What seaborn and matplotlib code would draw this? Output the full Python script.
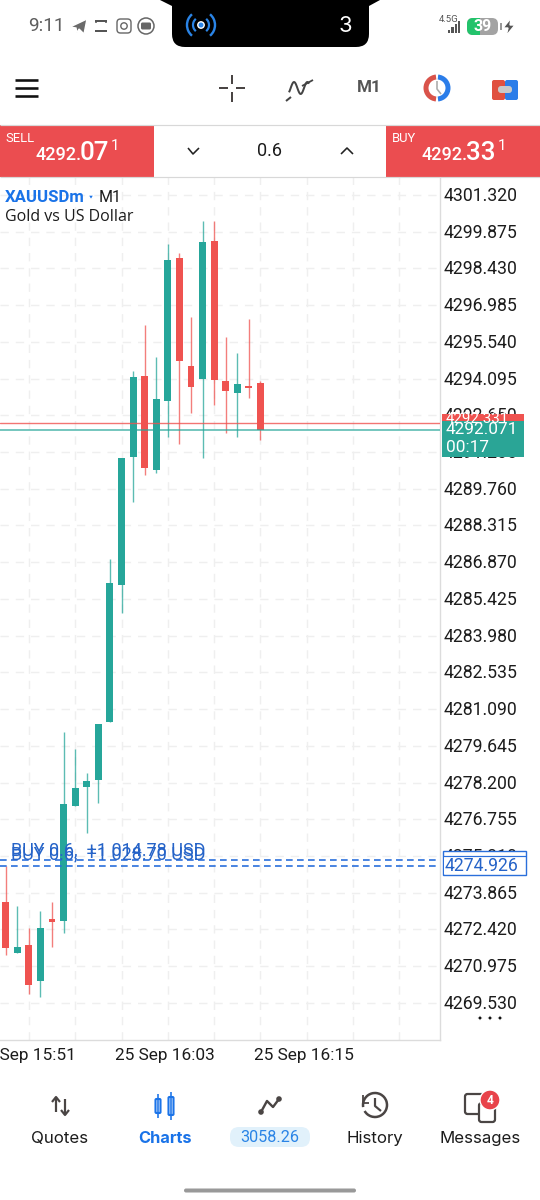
import numpy as np
import pandas as pd
import seaborn as sns
import matplotlib
matplotlib.use("Agg")
import matplotlib.pyplot as plt
from matplotlib.patches import Rectangle, FancyBboxPatch, Circle, Arc, Polygon
from matplotlib.transforms import ScaledTranslation

# ---------- data ----------
candle_idx = list(range(23))
opens  = [4273.51,4271.51,4271.81,4270.40,4272.83,4272.75,4277.28,4278.04,4278.30,4280.58,4285.97,4291.01,4294.19,4290.50,4293.22,4298.84,4294.59,4294.09,4299.50,4293.99,4293.54,4293.80,4293.91]
closes = [4271.68,4271.74,4270.24,4272.48,4272.70,4277.36,4277.97,4278.27,4280.50,4286.06,4290.96,4294.14,4290.56,4293.28,4298.77,4294.77,4293.77,4299.45,4294.04,4293.59,4293.88,4293.73,4292.07]
highs  = [4274.93,4273.34,4272.48,4273.14,4273.51,4280.18,4279.51,4278.56,4280.50,4286.98,4290.96,4294.40,4296.19,4294.93,4299.38,4299.02,4296.53,4300.30,4300.30,4295.72,4295.09,4296.42,4294.01]
lows   = [4271.42,4271.48,4269.87,4269.78,4271.74,4272.27,4277.28,4276.20,4277.38,4280.58,4284.88,4289.23,4290.30,4290.37,4291.78,4291.51,4292.75,4290.96,4293.07,4291.96,4291.81,4293.32,4291.68]
price_ticks = [4301.320,4299.875,4298.430,4296.985,4295.540,4294.095,4292.650,4291.205,4289.760,4288.315,4286.870,4285.425,4283.980,4282.535,4281.090,4279.645,4278.200,4276.755,4275.310,4273.865,4272.420,4270.975,4269.530]
time_ticks = [2,6,10,14,18,22,26,30,34]
time_labels = ["25 Sep 15:51","","","25 Sep 16:03","","","25 Sep 16:15","",""]
bid = 4292.071
ask = 4292.331
position_prices = [4275.15, 4274.926]
position_labels = ["BUY 0.6,  +1 028.70 USD", "BUY 0.6,  +1 014.78 USD"]
position_label_prices = [4275.39, 4275.55]
nav_labels = ["Quotes","Charts","History","Messages"]
balance = "3058.26"

GREEN = "#26a69a"; RED = "#ef5350"; BLUE = "#1a73e8"; LINE = "#2a6fdb"; LTXT = "#2563c8"
INK = "#1c1c1c"; GRID = "#efefef"; ICON = "#4a4544"; BAR = "#eb4d50"

sns.set_theme(style="white")
plt.rcParams["font.family"] = ["Roboto", "DejaVu Sans"]
W, H = 540, 1200
fig = plt.figure(figsize=(W/100, H/100), dpi=100, facecolor="white")
px = lambda v: v*0.72  # px to points

ax = fig.add_axes([0, 1-1040/H, 439.5/W, (1040-177)/H])
df = pd.DataFrame({"idx":candle_idx,"open":opens,"close":closes,"high":highs,"low":lows})
df["body_low"] = df[["open","close"]].min(axis=1)
df["body_h"] = (df["close"]-df["open"]).abs()
up = df[df.close >= df.open]; down = df[df.close < df.open]
for part, col in ((up, GREEN), (down, RED)):
    ax.vlines(part.idx, part.low, part.high, color=col, lw=1.0, alpha=.75, zorder=2)
    sns.barplot(data=part, x="idx", y="body_h", bottom=part["body_low"].values, native_scale=True,
                width=0.6, color=col, saturation=1, linewidth=0, errorbar=None, ax=ax, zorder=3)
ax.axhline(ask, color=RED, lw=1.0, alpha=.8, zorder=4)
ax.axhline(bid, color=GREEN, lw=1.2, alpha=.75, zorder=4)
for p in position_prices:
    ax.axhline(p, color=LINE, lw=1.2, dashes=(4, 2.6), zorder=4)
for lab, yv in zip(position_labels, position_label_prices):
    ax.text(0.46, yv, lab, color=LTXT, fontsize=px(18), va="center", ha="left", zorder=5)

ax.set_xlim(-0.492, 37.46); ax.set_ylim(4268.07, 4302.023)
ax.yaxis.tick_right()
ax.set_yticks(price_ticks); ax.set_yticklabels([f"{v:.3f}" for v in price_ticks])
ax.set_xticks(time_ticks); ax.set_xticklabels(time_labels)
ax.tick_params(axis="y", length=0, pad=3.2, labelsize=px(17.6), labelcolor=INK)
ax.tick_params(axis="x", length=0, pad=6, labelsize=px(17.2), labelcolor=INK)
for lb in ax.get_yticklabels():
    lb.set_transform(lb.get_transform() + ScaledTranslation(0, 1/100, fig.dpi_scale_trans))
for lb in ax.get_xticklabels():
    lb.set_transform(lb.get_transform() + ScaledTranslation(-2.5/100, 0, fig.dpi_scale_trans))
ax.set_xlabel(""); ax.set_ylabel("")
ax.grid(True, color=GRID, lw=1, dashes=(6, 5), zorder=0)
ax.set_axisbelow(True)
for s in ("top","left"): ax.spines[s].set_visible(False)
for s in ("right","bottom"):
    ax.spines[s].set_visible(True); ax.spines[s].set_color("#dcdcdc"); ax.spines[s].set_linewidth(1)

# ---------- app interface overlay, in screen pixels ----------
ui = fig.add_axes([0,0,1,1], zorder=5); ui.set_xlim(0,W); ui.set_ylim(H,0); ui.axis("off"); ui.patch.set_alpha(0)
def T(x,y,s,size,color=INK,ha="left",va="center",**k):
    return ui.text(x,y,s,fontsize=px(size),color=color,ha=ha,va=va,**k)
def L(xs,ys,color=ICON,lw=2,**k):
    ui.plot(xs,ys,color=color,lw=lw*0.72,solid_capstyle=k.pop("cap","butt"),**k)
def R(x,y,w,h,color,**k): ui.add_patch(Rectangle((x,y),w,h,fc=color,ec="none",**k))
def RR(x,y,w,h,r,fc,ec="none",lw=0):
    ui.add_patch(FancyBboxPatch((x+r,y+r),w-2*r,h-2*r,boxstyle=f"round,pad={r}",fc=fc,ec=ec,lw=lw))

# status bar
T(28,26,"9:11",19,"#5e5e5e")
ui.add_patch(Polygon([[70,27],[87,19],[84,34],[79,29],[77,33],[76,28]],fc="#6a6a6a"))
L([95,107],[21,21],"#555",2); L([95,107],[31,31],"#555",2); L([96,96],[21,23],"#555",1.5); L([106,106],[21,23],"#555",1.5)
RR(117,19,14,14,3.5,"none","#666",1.0); ui.add_patch(Circle((124,26),3.2,fc="none",ec="#666",lw=1)); ui.add_patch(Circle((128,22),0.8,fc="#666"))
ui.add_patch(Circle((146,26),8,fc="none",ec="#666",lw=1.1)); RR(141,22.5,10,7,1.5,"#666")
# notch
ui.add_patch(Polygon([[160,0],[380,0],[369,6],[172,6]],fc="black",ec="none"))
RR(172,-14,197,61,13,"black")
ui.add_patch(Circle((201,25),3.2,fc="#2a84e6"))
for r,lw in ((8,2.2),(14,2.4)):
    ui.add_patch(Arc((201,25),2*r,2*r,theta1=-50,theta2=50,color="#2a84e6",lw=lw*.72))
    ui.add_patch(Arc((201,25),2*r,2*r,theta1=130,theta2=230,color="#2a84e6",lw=lw*.72))
T(345,26,"3",22,"white",ha="center",family="Inter")
T(439,20,"4.5G",9.5,"#555")
for i,h in enumerate((3,6,9,12)): R(448+i*3.4,33-h,2.2,h,"#555")
RR(467,18,31,17,6,"#a3a3a3")
R(473,18,7,17,"#22c36b"); RR(467,18,12,17,6,"#22c36b")
T(483,26.5,"39",16,"white",ha="center",weight="bold")
R(500,23,1.5,7,"#999")
ui.add_patch(Polygon([[511,18],[503,28],[508,28],[506,36],[515,25],[510,25]],fc="#555"))

# toolbar
for y in (80,88,96): L([15,38],[y,y],"#111",2.6)
L([219,228],[88,88]);L([236,245],[88,88]);L([232,232],[75,84]);L([232,232],[92,102])
sx = np.linspace(289,309,40); L(sx, 88-6*np.sin((sx-289)/20*2*np.pi*1.5-0.8),"#444",2)
L([286,291],[101,97],"#444",2); L([302,313],[86,80],"#444",1.8)
T(369,88,"M1",17,"#555",ha="center",weight="bold")
ui.add_patch(Arc((437,88),22,22,theta1=95,theta2=265,color="#d9534a",lw=3.6)); ui.add_patch(Arc((437,88),22,22,theta1=-85,theta2=85,color="#2b7de9",lw=3.6))
L([437,437,441],[81,89,94],"#aaa",1.6)
RR(492,80,13,20,2,"#e0503f"); RR(505,80,13,20,2,"#2b7de9"); RR(498,86,14,7,3,"#c9c9c9")

# trade panel
R(0,124.5,540,53,"white"); L([0,540],[125,125],"#d8d8d8",1.2); L([0,540],[177,177],"#d8d8d8",1.2)
R(0,124.5,154,52.5,BAR); R(386,124.5,154,52.5,BAR)
for x0,lab,big,x1,x2,x3 in ((5,"SELL","07",36,80,111),(392,"BUY","33",422,466,498)):
    T(x0,138,lab,13,"white")
    T(x1,160,"4292.",18,"white",va="baseline",weight="medium")
    T(x2,160,big,26,"white",va="baseline",weight="medium")
    T(x3,150,"1",15,"white",va="baseline")
L([188,193,199],[148,154,148],"#222",1.6); L([341,347,353],[154,148,154],"#222",1.6)
T(270,151.5,"0.6",18,INK,ha="center")

# chart caption
T(5,197,"XAUUSDm",16.8,BLUE,weight="bold"); ui.add_patch(Polygon([[88,195],[94,195],[91,200]],fc=BLUE))
T(99,197.5,"M1",16,INK); T(5,217,"Gold vs US Dollar",16,INK,family="Open Sans")

# price tags
R(442,414,82,8,RED); T(446,419,"4292.331",15,"white")
R(442,421,82,36,"#2aa596")
T(446,429.5,f"{bid:.3f}",17.2,"white"); T(446,447,"00:17",17.2,"white")
R(442,851,84,24,"white")
ui.add_patch(Rectangle((442.5,851),83.5,23.5,fc="none",ec=LINE,lw=1)); L([442.5,526],[856,856],LINE,1.2)
R(444,857,80,17,"white"); T(445,866,"4274.926",17.6,LTXT)
for x in (480,490,500): ui.add_patch(Circle((x,1018),2.2,fc="#111"))

# bottom navigation
ncx=[60,165,375,480]
for x,lab in zip(ncx,nav_labels):
    if lab=="Charts": T(x,1143,lab,16.4,BLUE,ha="center",va="baseline",weight="bold",family="Inter")
    else: T(x,1143,lab,16.8,INK,ha="center",va="baseline",family="Inter")
L([56,56],[1097,1112],ICON,2.2);L([52,56,60],[1102,1097,1102],ICON,2.2);L([65,65],[1099,1115],ICON,2.2);L([61,65,69],[1110,1115,1110],ICON,2.2)
for x,y0,y1 in ((158,1097,1115),(171,1095,1117)):
    RR(x-2.5,y0+2,5,y1-y0-4,1,"white",BLUE,1.5); L([x,x],[y0-3,y1+3],BLUE,1.6)
L([261,267,273,279],[1112,1101,1107,1099],ICON,2.4)
for x,y in ((261,1112),(279,1099)): ui.add_patch(Circle((x,y),3.5,fc=ICON))
RR(230,1127,80,20,9,"#e1f1fb"); T(270,1137.5,balance,16.2,"#2a84e6",ha="center")
ui.add_patch(Arc((375,1105),24,24,theta1=-190,theta2=150,color=ICON,lw=1.8)); L([375,375,381],[1098,1106,1111],ICON,2.2); L([363,363,369],[1095,1103,1103],ICON,1.8)
RR(465,1094,24,20,2.5,"white",ICON,1.6); RR(479,1103,16,19,2.5,"white",ICON,1.6)
ui.add_patch(Circle((490,1100),10,fc="#e8434a")); T(490,1100.5,"4",12,"white",ha="center",weight="bold")
RR(184,1188.5,172,4,2,"#999999")

fig.savefig("out.png", dpi=100)
